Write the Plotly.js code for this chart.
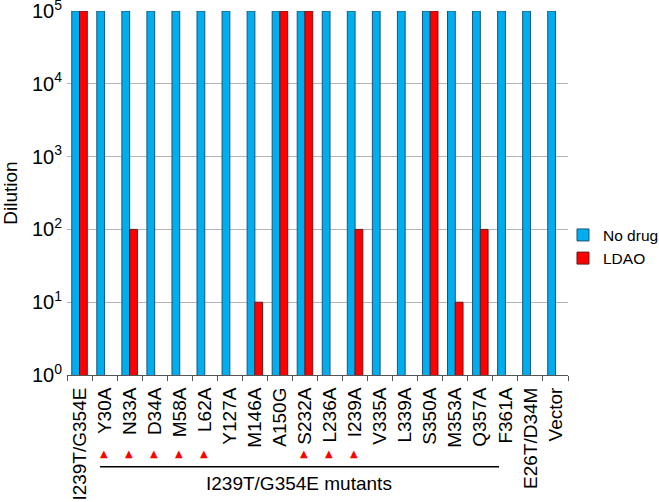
<!DOCTYPE html>
<html><head><meta charset="utf-8">
<script src="https://cdn.plot.ly/plotly-3.0.1.min.js"></script>
<style>html,body{margin:0;padding:0;background:#fff}</style>
</head><body>
<div id="chart" style="width:659px;height:502px"></div>
<script>
const categories = ["I239T/G354E","Y30A","N33A","D34A","M58A","L62A","Y127A","M146A","A150G","S232A","L236A","I239A","V335A","L339A","S350A","M353A","Q357A","F361A","E26T/D34M","Vector"];
const noDrug = [1e5,1e5,1e5,1e5,1e5,1e5,1e5,1e5,1e5,1e5,1e5,1e5,1e5,1e5,1e5,1e5,1e5,1e5,1e5,1e5];
const ldao = [1e5,null,100,null,null,null,null,10,1e5,1e5,null,100,null,null,1e5,10,100,null,null,null];
const markedCategories = ["Y30A","N33A","D34A","M58A","L62A","S232A","L236A","I239A"];
const yTickVals = [1,10,100,1000,10000,100000];
const yTickText = ["10<sup>0</sup>","10<sup>1</sup>","10<sup>2</sup>","10<sup>3</sup>","10<sup>4</sup>","10<sup>5</sup>"];
const groupLabel = "I239T/G354E mutants";

const font = "Liberation Sans, Arial, sans-serif";
const traces = [
  {type:"bar", name:"No drug", x:categories, y:noDrug,
   marker:{color:"#00AEEF", line:{color:"#1B5575", width:1}}},
  {type:"bar", name:"LDAO", x:categories, y:ldao,
   marker:{color:"#FF0000", line:{color:"#6A1A1A", width:1}}}
];
const annotations = markedCategories.map(c => ({
  x:c, xref:"x", y:-0.216, yref:"paper", text:"▲", showarrow:false, xshift:-1,
  font:{color:"#FF0000", size:10, family:"DejaVu Sans"}, xanchor:"center", yanchor:"middle"
}));
annotations.push({x:0.463, xref:"paper", y:-0.297, yref:"paper", text:groupLabel, showarrow:false,
  font:{size:19, family:font, color:"#000"}, xanchor:"center", yanchor:"middle"});
const layout = {
  width:659, height:502,
  margin:{l:67, r:91, t:11, b:127, autoexpand:false},
  paper_bgcolor:"#fff", plot_bgcolor:"#fff",
  barmode:"group", bargap:0.38, bargroupgap:0,
  font:{family:font, size:19, color:"#000"},
  xaxis:{type:"category", tickangle:-90, tickson:"boundaries", ticks:"outside", ticklen:5,
    tickcolor:"#555", showline:true, linecolor:"#555", linewidth:1, showgrid:false,
    ticklabelstandoff:4, tickfont:{size:19, family:font, color:"#000"}},
  yaxis:{type:"log", range:[0,5], tickvals:yTickVals, ticktext:yTickText,
    showgrid:true, gridcolor:"#B4B4B4", gridwidth:1, ticks:"", ticklabelstandoff:4,
    ticklabeloverflow:"allow",
    showline:false, zeroline:false, tickfont:{size:20, family:font, color:"#000"},
    title:{text:"Dilution", font:{size:19, family:font, color:"#000"}, standoff:10}},
  legend:{x:0.99, y:0.352, xanchor:"left", yanchor:"middle", font:{size:15.5, family:font, color:"#000"},
    itemwidth:30, bgcolor:"rgba(0,0,0,0)"},
  annotations:annotations,
  shapes:[{type:"line", xref:"x", yref:"paper", x0:0.82, x1:16.75, y0:-0.252, y1:-0.252,
    line:{color:"#000", width:1.6}}]
};
Plotly.newPlot("chart", traces, layout, {displayModeBar:false, staticPlot:true});
</script>
</body></html>
